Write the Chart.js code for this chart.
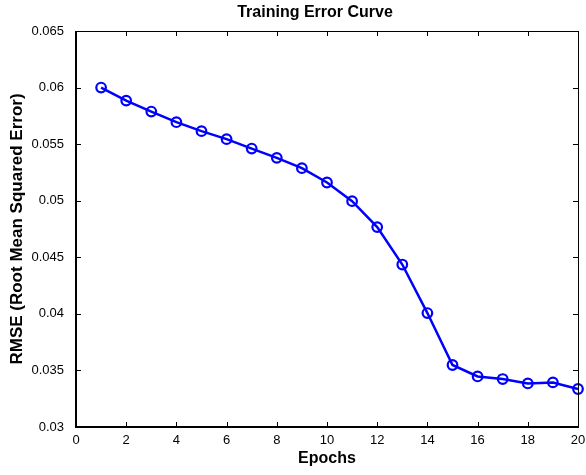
<!DOCTYPE html>
<html>
<head>
<meta charset="utf-8">
<script src="https://cdn.jsdelivr.net/npm/chart.js@4"></script>
<style>
  html, body { margin: 0; padding: 0; background: #ffffff; }
  #wrap { width: 586px; height: 475px; position: relative; }
</style>
</head>
<body>
<div id="wrap"><canvas id="c" width="586" height="475"></canvas></div>
<script>
const epochs = [1, 2, 3, 4, 5, 6, 7, 8, 9, 10, 11, 12, 13, 14, 15, 16, 17, 18, 19, 20];
const rmse = [0.0600, 0.05885, 0.05788, 0.05694, 0.05615, 0.05544, 0.05461, 0.05379, 0.05288, 0.05161,
              0.04996, 0.04767, 0.04436, 0.04007, 0.03548, 0.03447, 0.03424, 0.03385, 0.03394, 0.03336];
const xTicks = [0, 2, 4, 6, 8, 10, 12, 14, 16, 18, 20];
const yTicks = [0.03, 0.035, 0.04, 0.045, 0.05, 0.055, 0.06, 0.065];
const titleText = 'Training Error Curve';
const xLabel = 'Epochs';
const yLabel = 'RMSE (Root Mean Squared Error)';

const FONT = '"Liberation Sans", Arial, Helvetica, sans-serif';

const titlePlugin = {
  id: 'plotTitle',
  afterDraw(chart) {
    const ctx = chart.ctx;
    ctx.save();
    ctx.fillStyle = '#000000';
    ctx.font = 'bold 16px ' + FONT;
    ctx.textAlign = 'center';
    ctx.textBaseline = 'middle';
    ctx.fillText(titleText, 315, 13);
    ctx.restore();
  }
};

const boxPlugin = {
  id: 'matlabBox',
  afterDraw(chart) {
    const ctx = chart.ctx;
    const a = chart.chartArea;
    const xs = chart.scales.x, ys = chart.scales.y;
    const L = 5;
    const l = Math.round(a.left), r = Math.round(a.right), t = Math.round(a.top), b = Math.round(a.bottom);
    ctx.save();
    ctx.strokeStyle = '#000000';
    ctx.lineWidth = 1;
    ctx.beginPath();
    xTicks.forEach(v => {
      const px = Math.round(xs.getPixelForValue(v)) + 0.5;
      ctx.moveTo(px, b); ctx.lineTo(px, b - L);
      ctx.moveTo(px, t); ctx.lineTo(px, t + L);
    });
    yTicks.forEach(v => {
      const py = Math.round(ys.getPixelForValue(v)) + 0.5;
      ctx.moveTo(l, py); ctx.lineTo(l + L, py);
      ctx.moveTo(r, py); ctx.lineTo(r - L, py);
    });
    ctx.stroke();
    ctx.beginPath();
    ctx.moveTo(l, t + 0.5); ctx.lineTo(r + 0.5, t + 0.5);
    ctx.moveTo(r + 0.5, t); ctx.lineTo(r + 0.5, b);
    ctx.stroke();
    ctx.lineWidth = 2;
    ctx.beginPath();
    ctx.moveTo(l, t); ctx.lineTo(l, b);
    ctx.moveTo(l - 1, b); ctx.lineTo(r + 1, b);
    ctx.stroke();
    ctx.restore();
  }
};

new Chart(document.getElementById('c'), {
  type: 'line',
  data: {
    datasets: [{
      data: epochs.map((e, i) => ({ x: e, y: rmse[i] })),
      borderColor: '#0000ff',
      borderWidth: 2.5,
      pointRadius: 4.8,
      pointHoverRadius: 4.8,
      pointBorderWidth: 2.2,
      pointBorderColor: '#0000ff',
      pointBackgroundColor: 'rgba(0,0,0,0)',
      tension: 0,
      clip: false
    }]
  },
  options: {
    responsive: false,
    animation: false,
    devicePixelRatio: 1,
    layout: { padding: { left: 0, right: 8, top: 31, bottom: 0 } },
    plugins: {
      legend: { display: false },
      tooltip: { enabled: false },
      title: { display: false }
    },
    scales: {
      x: {
        type: 'linear',
        min: 0, max: 20,
        afterBuildTicks(scale) { scale.ticks = xTicks.map(v => ({ value: v })); },
        afterFit(scale) { scale.height = 48; scale.paddingRight = 0; scale.paddingLeft = 0; },
        grid: { display: false, drawTicks: false },
        border: { display: false },
        ticks: {
          color: '#000000',
          font: { family: FONT, size: 13 },
          padding: 6,
          maxRotation: 0,
          autoSkip: false,
          callback: v => String(v)
        },
        title: {
          display: true,
          text: xLabel,
          color: '#000000',
          font: { family: FONT, size: 16, weight: 'bold' },
          padding: { top: 0, bottom: 7 }
        }
      },
      y: {
        type: 'linear',
        min: 0.03, max: 0.065,
        afterBuildTicks(scale) { scale.ticks = yTicks.map(v => ({ value: v })); },
        afterFit(scale) { scale.width = 76; scale.paddingTop = 0; scale.paddingBottom = 0; },
        grid: { display: false, drawTicks: false },
        border: { display: false },
        ticks: {
          color: '#000000',
          font: { family: FONT, size: 13 },
          padding: 12,
          autoSkip: false,
          callback: v => String(parseFloat(Number(v).toFixed(3)))
        },
        title: {
          display: true,
          text: yLabel,
          color: '#000000',
          font: { family: FONT, size: 17, weight: 'bold' },
          padding: { top: 7, bottom: 0 }
        }
      }
    }
  },
  plugins: [boxPlugin, titlePlugin]
});
</script>
</body>
</html>
